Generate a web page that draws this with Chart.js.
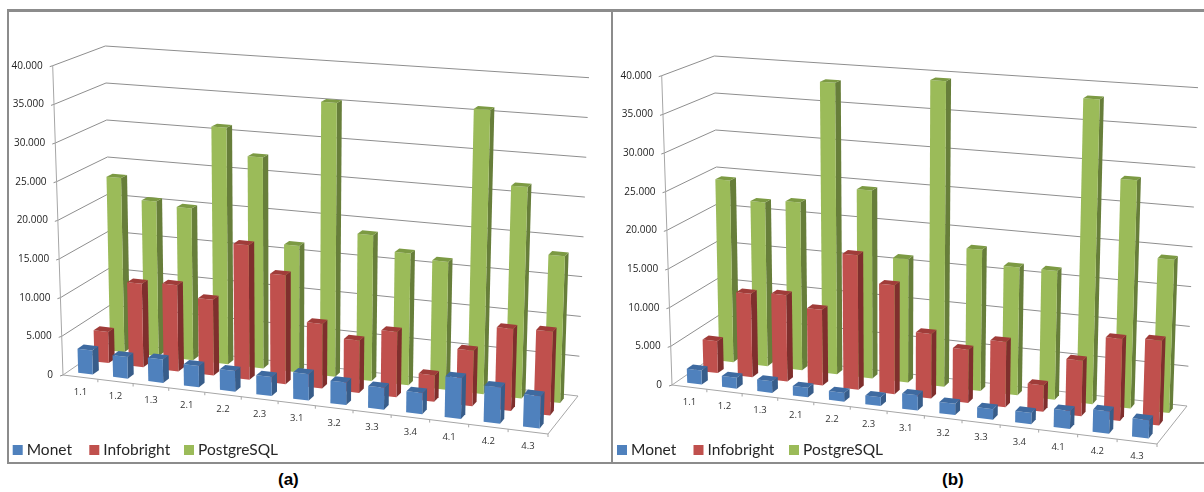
<!DOCTYPE html>
<html>
<head>
<meta charset="utf-8">
<title>Query times</title>
<script src="https://cdn.jsdelivr.net/npm/chart.js@4"></script>
<style>
  html, body { margin: 0; background: #fff; }
  body { position: relative; width: 1204px; height: 492px; overflow: hidden; }
  canvas { position: absolute; }
  .rule { position: absolute; background: #8c8c8c; }
  .caption { position: absolute; top: 470px; font: bold 17px "Liberation Sans", sans-serif; color: #000; }
</style>
</head>
<body>
<canvas id="chart-a" width="612" height="462" style="left:0;top:0"></canvas>
<canvas id="chart-b" width="595" height="452" style="left:609px;top:10px"></canvas>
<div class="rule" style="left:7px;top:9px;width:1197px;height:2.5px"></div>
<div class="rule" style="left:7px;top:9px;width:2px;height:455px"></div>
<div class="rule" style="left:610.5px;top:9px;width:2.5px;height:455px"></div>
<div class="rule" style="left:7px;top:462px;width:1197px;height:2px"></div>
<div class="caption" style="left:278px">(a)</div>
<div class="caption" style="left:942px">(b)</div>
<script>
const queries = ["1.1", "1.2", "1.3", "2.1", "2.2", "2.3", "3.1", "3.2", "3.3", "3.4", "4.1", "4.2", "4.3"];

const monetA = [3100, 2800, 3000, 2700, 2600, 2400, 3300, 2800, 2700, 2600, 5000, 4400, 3900];
const infobrightA = [4100, 10900, 11200, 9800, 17300, 13900, 8200, 6600, 8200, 3300, 6900, 10100, 10300];
const postgresA = [23200, 20500, 20000, 31000, 27500, 16400, 35300, 18700, 16800, 16200, 35800, 26500, 18300];

const monetB = [1800, 1400, 1500, 1200, 1100, 1100, 1900, 1400, 1300, 1400, 2200, 2700, 2200];
const infobrightB = [4200, 10900, 11200, 9800, 17300, 13900, 8200, 6700, 8200, 3300, 6900, 10100, 10400];
const postgresB = [24200, 21700, 22100, 38200, 24500, 16000, 39400, 18100, 16300, 16300, 38400, 28600, 19100];

const axisMax = 40000;
const axisStep = 5000;

// box corners on the canvas: front left, front right, back right, back left
const FLOOR = [[63, 375], [548, 434], [578, 396], [111, 342]];
const CEILING = [[52.7, 65.7], [559, 100.7], [589, 77.7], [105.3, 46]];

const BAR_WIDTH = 0.42; // share of a category
const BAR_DEPTH = 0.125; // share of the floor depth

const SERIES_STYLE = [
  { front: "#4f81bd", side: "#385d8a", top: "#3e6aa0" },
  { front: "#c0504d", side: "#7f2f2d", top: "#a03c39" },
  { front: "#9bbb59", side: "#677e3a", top: "#7c9a43" },
];

// unit square to quadrilateral
function quadMap(corners) {
  const [[x0, y0], [x1, y1], [x2, y2], [x3, y3]] = corners;
  const sx = x0 - x1 + x2 - x3;
  const sy = y0 - y1 + y2 - y3;
  const dx1 = x1 - x2;
  const dx2 = x3 - x2;
  const dy1 = y1 - y2;
  const dy2 = y3 - y2;
  const den = dx1 * dy2 - dx2 * dy1;
  const g = (sx * dy2 - dx2 * sy) / den;
  const h = (dx1 * sy - sx * dy1) / den;
  const a = x1 - x0 + g * x1;
  const b = x3 - x0 + h * x3;
  const d = y1 - y0 + g * y1;
  const e = y3 - y0 + h * y3;
  return (u, v) => {
    const W = g * u + h * v + 1;
    return [(a * u + b * v + x0) / W, (d * u + e * v + y0) / W];
  };
}

const floorAt = quadMap(FLOOR);
const ceilingAt = quadMap(CEILING);

function project(u, v, w) {
  const p = floorAt(u, v);
  const q = ceilingAt(u, v);
  return [p[0] + (q[0] - p[0]) * w, p[1] + (q[1] - p[1]) * w];
}

function catFraction(scale, value) {
  return (scale.getPixelForValue(value) - scale.left) / scale.width;
}

function valueFraction(scale, value) {
  return (scale.bottom - scale.getPixelForValue(value)) / (scale.bottom - scale.top);
}

function polygon(ctx, points, fill) {
  ctx.beginPath();
  points.forEach((p, i) => (i ? ctx.lineTo(p[0], p[1]) : ctx.moveTo(p[0], p[1])));
  ctx.closePath();
  ctx.fillStyle = fill;
  ctx.fill();
}

function line(ctx, points, color) {
  ctx.beginPath();
  points.forEach((p, i) => (i ? ctx.lineTo(p[0], p[1]) : ctx.moveTo(p[0], p[1])));
  ctx.strokeStyle = color;
  ctx.lineWidth = 1;
  ctx.stroke();
}

class Bar3dController extends Chart.BarController {
  draw() {
    const ctx = this.chart.ctx;
    const meta = this.getMeta();
    const xScale = meta.xScale;
    const yScale = meta.yScale;
    const style = SERIES_STYLE[this.index];
    const rowCentre = (this.index + 0.5) / 3;
    const v0 = rowCentre - BAR_DEPTH / 2;
    const v1 = rowCentre + BAR_DEPTH / 2;

    ctx.save();
    for (let i = 0; i < meta.data.length; i++) {
      const u0 = catFraction(xScale, i - BAR_WIDTH / 2);
      const u1 = catFraction(xScale, i + BAR_WIDTH / 2);
      const w = valueFraction(yScale, this.getParsed(i).y);
      // right hand side, then the front, then the lid
      polygon(ctx, [project(u1, v0, 0), project(u1, v1, 0), project(u1, v1, w), project(u1, v0, w)], style.side);
      polygon(ctx, [project(u0, v0, 0), project(u1, v0, 0), project(u1, v0, w), project(u0, v0, w)], style.front);
      polygon(ctx, [project(u0, v0, w), project(u1, v0, w), project(u1, v1, w), project(u0, v1, w)], style.top);
    }
    ctx.restore();
  }
}
Bar3dController.id = "bar3d";
Bar3dController.defaults = Chart.BarController.defaults;
Bar3dController.overrides = Chart.BarController.overrides;
Chart.register(Bar3dController);

const boxPlugin = {
  id: "box",
  beforeDatasetsDraw(chart) {
    const ctx = chart.ctx;
    const xScale = chart.scales.x;
    const yScale = chart.scales.y;
    ctx.save();

    // walls and value labels
    ctx.font = '10px "Open Sans"';
    ctx.textAlign = "right";
    ctx.textBaseline = "middle";
    yScale.ticks.forEach((tick) => {
      const w = valueFraction(yScale, tick.value);
      const front = project(0, 0, w);
      if (tick.value > 0) {
        line(ctx, [front, project(0, 1, w), project(1, 1, w)], "#8e8e8e");
      }
      line(ctx, [[front[0] - 3, front[1] + 1], front], "#8e8e8e");
      ctx.fillStyle = "#222";
      ctx.fillText(tick.label, front[0] - 10, front[1]);
    });
    line(ctx, [project(0, 0, 0), project(0, 0, 1)], "#a6a6a6");

    // floor
    line(ctx, [project(0, 0, 0), project(1, 0, 0), project(1, 1, 0), project(0, 1, 0), project(0, 0, 0)], "#a6a6a6");

    // category ticks along the front edge
    ctx.textAlign = "center";
    ctx.font = '9.5px "Open Sans"';
    xScale.ticks.forEach((tick, i) => {
      const edge = project(catFraction(xScale, i + 0.5), 0, 0);
      line(ctx, [edge, [edge[0], edge[1] + 3]], "#a6a6a6");
      const mid = project(catFraction(xScale, i), 0, 0);
      ctx.fillStyle = "#333";
      ctx.fillText(tick.label, mid[0], mid[1] + 15);
    });
    ctx.restore();
  },
  afterDatasetsDraw(chart, args, opts) {
    // legend strip along the bottom
    const ctx = chart.ctx;
    ctx.save();
    ctx.font = '15.5px Lato';
    ctx.textAlign = "left";
    ctx.textBaseline = "middle";
    chart.data.datasets.forEach((ds, i) => {
      const x = opts.legendX[i];
      const y = opts.legendY;
      ctx.fillStyle = SERIES_STYLE[i].front;
      ctx.fillRect(x, y - 5, 10, 10);
      ctx.fillStyle = "#262626";
      ctx.fillText(ds.label, x + 14, y);
    });
    ctx.restore();
  },
};

function drawChart(id, monet, infobright, postgres, legendX, legendY) {
  const config = {
    type: "bar3d",
    data: {
      labels: queries,
      datasets: [
        { label: "Monet", data: monet, backgroundColor: SERIES_STYLE[0].front },
        { label: "Infobright", data: infobright, backgroundColor: SERIES_STYLE[1].front },
        { label: "PostgreSQL", data: postgres, backgroundColor: SERIES_STYLE[2].front },
      ],
    },
    options: {
      responsive: false,
      animation: false,
      layout: { padding: 0 },
      plugins: {
        legend: { display: false },
        tooltip: { enabled: false },
        box: { legendX: legendX, legendY: legendY },
      },
      scales: {
        x: {
          type: "category",
          offset: true,
          grid: { display: false },
          border: { display: false },
          ticks: { display: false, autoSkip: false },
        },
        y: {
          type: "linear",
          min: 0,
          max: axisMax,
          grid: { display: false },
          border: { display: false },
          ticks: {
            display: false,
            stepSize: axisStep,
            callback: (v) => (v === 0 ? "0" : v / 1000 + ".000"),
          },
        },
      },
    },
    plugins: [boxPlugin],
  };
  return new Chart(document.getElementById(id), config);
}

drawChart("chart-a", monetA, infobrightA, postgresA, [12.7, 89.3, 184], 450);
drawChart("chart-b", monetB, infobrightB, postgresB, [8, 84.5, 180], 440);
</script>
</body>
</html>
